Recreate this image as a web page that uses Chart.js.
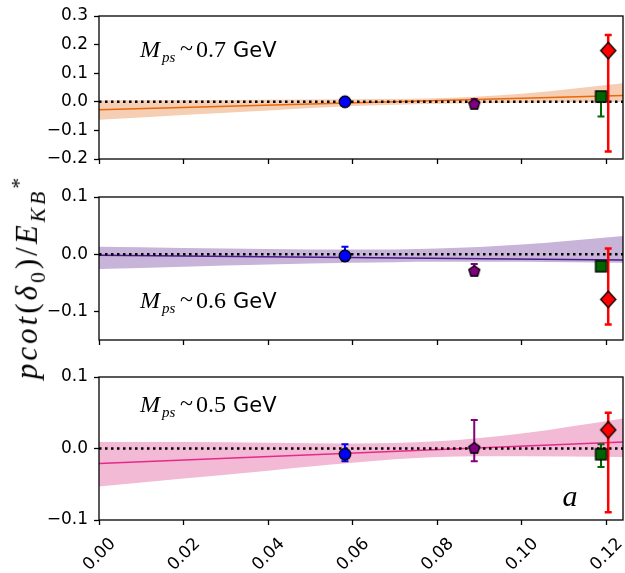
<!DOCTYPE html>
<html>
<head>
<meta charset="utf-8">
<script src="https://cdn.jsdelivr.net/npm/chart.js@4.4.1/dist/chart.umd.min.js"></script>
<style>
  html, body { margin: 0; padding: 0; background: #fff; }
  #wrap { position: relative; width: 625px; height: 573px; overflow: hidden; }
  #wrap canvas { position: absolute; left: 0; }
  #ylab {
    position: absolute; left: 29px; top: 277px;
    transform: translate(-50%, -50%) rotate(-90deg);
    font-family: 'Liberation Serif', serif; font-size: 31px; font-style: italic;
    letter-spacing: 3px;
    white-space: nowrap; line-height: 1; color: #000;
  }
  #ylab .up { font-style: normal; }
  #ylab sub, #ylab sup { font-size: 70%; }
</style>
</head>
<body>
<div id="wrap">
  <canvas id="p07" width="625" height="180" style="top:0px"></canvas>
  <canvas id="p06" width="625" height="180" style="top:180px"></canvas>
  <canvas id="p05" width="625" height="213" style="top:360px"></canvas>
  <div id="ylab">pcot<span class="up">(</span>δ<sub class="up">0</sub><span class="up">)/</span>E<sub>KB</sub><sup class="up">*</sup></div>
</div>
<script>
// x axis (lattice spacing a)
const xTicks = [0, 0.02, 0.04, 0.06, 0.08, 0.10, 0.12];
const xMax = 0.124;
const ensembleX = [0.0582, 0.0888, 0.1188, 0.1205];
const bandX = [0, 0.02, 0.04, 0.06, 0.08, 0.10, 0.124];
const fitX = [0, 0.124];
const massText = ['0.7', '0.6', '0.5'];

// M_ps ~ 0.7 GeV
const y07 = [0.000, -0.007, 0.0185, 0.179];
const y07Lo = [-0.005, -0.010, -0.051, -0.174];
const y07Hi = [0.005, 0.010, 0.030, 0.234];
const fit07 = [-0.028, 0.022];
const band07Hi = [0.005, 0.006, 0.007, 0.009, 0.012, 0.028, 0.065];
const band07Lo = [-0.063, -0.046, -0.030, -0.015, -0.007, -0.003, -0.001];
const yTicks07 = [-0.2, -0.1, 0, 0.1, 0.2, 0.3];

// M_ps ~ 0.6 GeV
const y06 = [-0.003, -0.029, -0.021, -0.079];
const y06Lo = [-0.012, -0.035, -0.026, -0.123];
const y06Hi = [0.013, -0.017, -0.016, 0.010];
const fit06 = [-0.002, -0.010];
const band06Hi = [0.013, 0.011, 0.009, 0.008, 0.010, 0.017, 0.032];
const band06Lo = [-0.026, -0.022, -0.018, -0.015, -0.013, -0.013, -0.015];
const yTicks06 = [-0.1, 0, 0.1];

// M_ps ~ 0.5 GeV
const y05 = [-0.008, 0.001, -0.008, 0.026];
const y05Lo = [-0.018, -0.018, -0.026, -0.089];
const y05Hi = [0.006, 0.040, 0.006, 0.050];
const fit05 = [-0.021, 0.009];
const band05Hi = [0.009, 0.009, 0.008, 0.007, 0.010, 0.021, 0.042];
const band05Lo = [-0.053, -0.042, -0.031, -0.020, -0.012, -0.011, -0.012];
const yTicks05 = [-0.1, 0, 0.1];

// marker images drawn once, used as pointStyle
function marker(shape, fill, size) {
  const c = document.createElement('canvas');
  c.width = c.height = Math.ceil(size) + 4;
  const g = c.getContext('2d');
  const m = c.width / 2, r = size / 2;
  g.beginPath();
  if (shape === 'circle') {
    g.arc(m, m, r, 0, Math.PI * 2);
  } else if (shape === 'square') {
    g.rect(m - r, m - r, 2 * r, 2 * r);
  } else if (shape === 'diamond') {
    g.moveTo(m, m - r); g.lineTo(m + r * 0.92, m); g.lineTo(m, m + r); g.lineTo(m - r * 0.92, m); g.closePath();
  } else {
    for (let k = 0; k < 5; k++) {
      const a = -Math.PI / 2 + k * 2 * Math.PI / 5;
      const px = m + r * Math.cos(a), py = m + 0.6 + r * Math.sin(a);
      if (k === 0) g.moveTo(px, py); else g.lineTo(px, py);
    }
    g.closePath();
  }
  g.fillStyle = fill;
  g.fill();
  g.lineWidth = 1.3;
  g.strokeStyle = '#000';
  g.stroke();
  return c;
}

const ensembles = [
  { color: '#0000ff', img: marker('circle', '#0000ff', 11.5), errWidth: 2 },
  { color: '#800080', img: marker('pentagon', '#800080', 11.5), errWidth: 2 },
  { color: '#006400', img: marker('square', '#006400', 11), errWidth: 2 },
  { color: '#ff0000', img: marker('diamond', '#ff0000', 16.5), errWidth: 2.5 }
];

const errorBars = {
  id: 'errorBars',
  beforeDatasetDraw(chart, args) {
    const ds = chart.data.datasets[args.index];
    if (!ds.errLo) return;
    const xs = chart.scales.x, ys = chart.scales.y, ctx = chart.ctx;
    ctx.save();
    ctx.strokeStyle = ds.errColor;
    ctx.lineWidth = ds.errWidth;
    ds.data.forEach((p, i) => {
      const x = xs.getPixelForValue(p.x);
      const lo = ys.getPixelForValue(ds.errLo[i]);
      const hi = ys.getPixelForValue(ds.errHi[i]);
      ctx.beginPath();
      ctx.moveTo(x, lo); ctx.lineTo(x, hi);
      ctx.moveTo(x - 3.5, lo); ctx.lineTo(x + 3.5, lo);
      ctx.moveTo(x - 3.5, hi); ctx.lineTo(x + 3.5, hi);
      ctx.stroke();
    });
    ctx.restore();
  }
};

const frame = {
  id: 'frame',
  afterDraw(chart, args, opts) {
    const a = chart.chartArea, ctx = chart.ctx;
    ctx.save();
    ctx.strokeStyle = '#000';
    ctx.lineWidth = 1.3;
    ctx.strokeRect(a.left, a.top, a.right - a.left, a.bottom - a.top);
    ctx.fillStyle = '#000';
    ctx.textBaseline = 'alphabetic';
    (opts.items || []).forEach(t => {
      ctx.font = t.font;
      ctx.textAlign = t.align || 'left';
      ctx.fillText(t.text, t.x, t.y);
    });
    ctx.restore();
  }
};

const fmtY = v => (v < 0 ? '\u2212' : '') + Math.abs(v).toFixed(1);

function massItems(m, base) {
  return [
    { text: 'M', x: 140, y: base, font: 'italic 24px "Liberation Serif"' },
    { text: 'ps', x: 162, y: base + 5, font: 'italic 15px "Liberation Serif"' },
    { text: '~', x: 180, y: base - 1, font: '24px "Liberation Serif"' },
    { text: m, x: 196, y: base, font: '24px "Liberation Serif"' },
    { text: 'GeV', x: 233, y: base, font: '21px "DejaVu Sans"' }
  ];
}

function makePanel(id, o) {
  const pts = ensembles.map((e, i) => ({
    type: 'line',
    showLine: false,
    data: [{ x: ensembleX[i], y: o.y[i] }],
    errLo: [o.lo[i]],
    errHi: [o.hi[i]],
    errColor: e.color,
    errWidth: e.errWidth,
    pointStyle: e.img,
    pointRadius: 6,
    order: 0
  }));
  const datasets = pts.concat([
    {
      type: 'line',
      data: [{ x: 0, y: 0 }, { x: xMax, y: 0 }],
      borderColor: '#000', borderWidth: 2.5, borderDash: [2.5, 3.5],
      pointRadius: 0, fill: false, order: 1
    },
    {
      type: 'line',
      data: fitX.map((x, i) => ({ x, y: o.fit[i] })),
      borderColor: o.lineColor, borderWidth: 1.5,
      pointRadius: 0, fill: false, order: 2
    },
    {
      type: 'line',
      data: bandX.map((x, i) => ({ x, y: o.bandHi[i] })),
      borderWidth: 0, pointRadius: 0, backgroundColor: o.bandColor,
      fill: '+1', cubicInterpolationMode: 'monotone', order: 3
    },
    {
      type: 'line',
      data: bandX.map((x, i) => ({ x, y: o.bandLo[i] })),
      borderWidth: 0, pointRadius: 0, fill: false,
      cubicInterpolationMode: 'monotone', order: 3
    }
  ]);

  return new Chart(document.getElementById(id), {
    type: 'line',
    data: { datasets },
    plugins: [errorBars, frame],
    options: {
      responsive: false,
      animation: false,
      layout: { autoPadding: false, padding: { top: o.top, left: 0, right: 2, bottom: 0 } },
      plugins: {
        legend: { display: false },
        tooltip: { enabled: false },
        frame: { items: o.text }
      },
      scales: {
        x: {
          type: 'linear', min: 0, max: xMax,
          afterBuildTicks: s => { s.ticks = xTicks.map(v => ({ value: v })); },
          afterFit: s => { s.height = o.xHeight; s.paddingLeft = 0; s.paddingRight = 0; },
          grid: { display: true, drawOnChartArea: false, drawTicks: true, tickLength: 5, tickWidth: 1.3, tickColor: '#000' },
          border: { display: false },
          ticks: {
            display: o.showX, autoSkip: false, minRotation: 45, maxRotation: 45,
            labelOffset: 14, padding: 9, color: '#000',
            font: { family: 'DejaVu Sans', size: 17 },
            callback: v => v.toFixed(2)
          }
        },
        y: {
          type: 'linear', min: o.min, max: o.max,
          afterBuildTicks: s => { s.ticks = o.ticks.map(v => ({ value: v })); },
          afterFit: s => { s.width = 99; s.paddingTop = 0; s.paddingBottom = 0; },
          grid: { display: true, drawOnChartArea: false, drawTicks: true, tickLength: 5, tickWidth: 1.3, tickColor: '#000' },
          border: { display: false },
          ticks: {
            padding: 6, color: '#000',
            font: { family: 'DejaVu Sans', size: 17 },
            callback: fmtY
          }
        }
      }
    }
  });
}

makePanel('p07', {
  y: y07, lo: y07Lo, hi: y07Hi, fit: fit07, bandHi: band07Hi, bandLo: band07Lo,
  ticks: yTicks07, min: -0.2, max: 0.3, top: 16, xHeight: 21, showX: false,
  lineColor: '#e8690c', bandColor: 'rgb(245,206,180)',
  text: massItems(massText[0], 57)
});

makePanel('p06', {
  y: y06, lo: y06Lo, hi: y06Hi, fit: fit06, bandHi: band06Hi, bandLo: band06Lo,
  ticks: yTicks06, min: -0.15, max: 0.1, top: 17, xHeight: 20, showX: false,
  lineColor: '#4b1a8c', bandColor: 'rgb(200,180,216)',
  text: massItems(massText[1], 128)
});

makePanel('p05', {
  y: y05, lo: y05Lo, hi: y05Hi, fit: fit05, bandHi: band05Hi, bandLo: band05Lo,
  ticks: yTicks05, min: -0.1, max: 0.1, top: 17, xHeight: 53, showX: true,
  lineColor: '#e7298a', bandColor: 'rgb(242,186,212)',
  text: massItems(massText[2], 52).concat([
    { text: 'a', x: 570, y: 146, font: 'italic 30px "Liberation Serif"', align: 'center' }
  ])
});
</script>
</body>
</html>
